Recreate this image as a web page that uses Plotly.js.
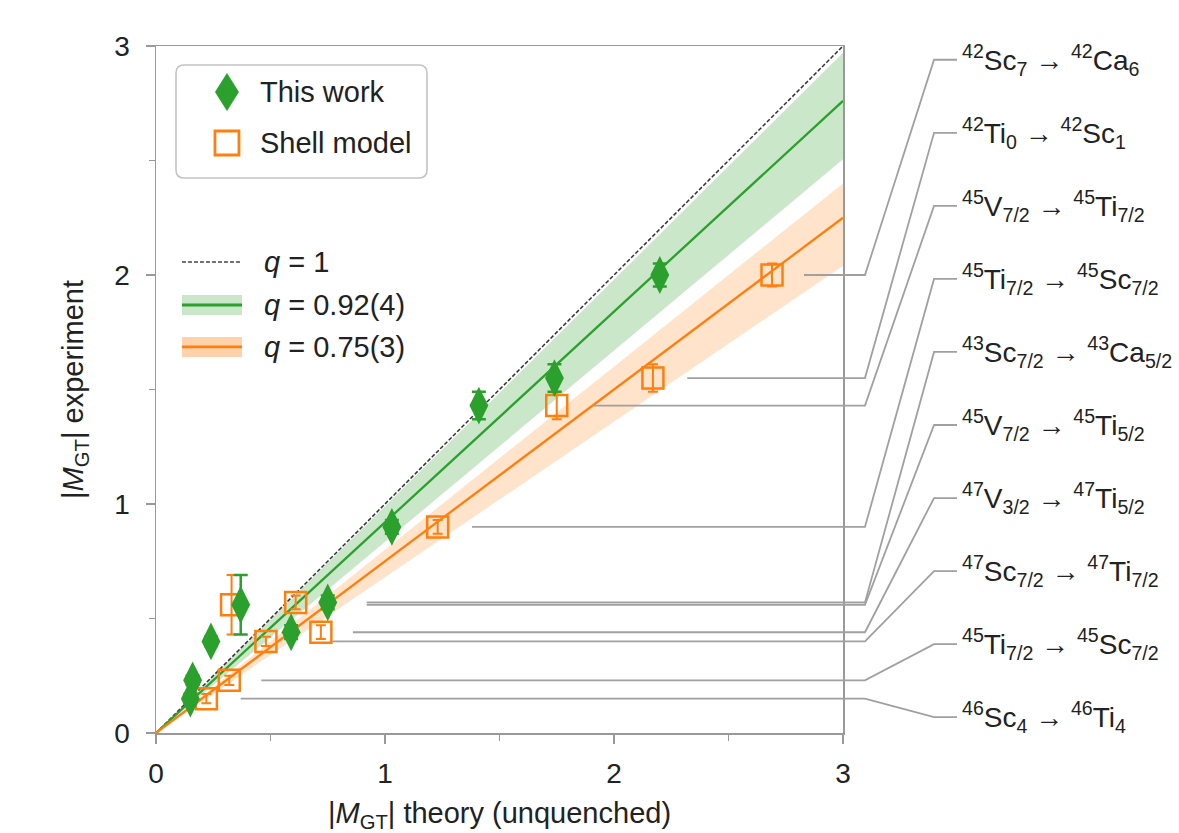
<!DOCTYPE html>
<html>
<head>
<meta charset="utf-8">
<script src="https://cdn.plot.ly/plotly-3.0.1.min.js"></script>
<style>
  html, body { margin: 0; padding: 0; background: #fff; }
  #chart { width: 1179px; height: 833px; }
</style>
</head>
<body>
<div id="chart"></div>
<script>
// ---- data (one entry per transition, top label to bottom label) ----
const transitions = [
  "<sup>42</sup>Sc<sub>7</sub> → <sup>42</sup>Ca<sub>6</sub>",
  "<sup>42</sup>Ti<sub>0</sub> → <sup>42</sup>Sc<sub>1</sub>",
  "<sup>45</sup>V<sub>7/2</sub> → <sup>45</sup>Ti<sub>7/2</sub>",
  "<sup>45</sup>Ti<sub>7/2</sub> → <sup>45</sup>Sc<sub>7/2</sub>",
  "<sup>43</sup>Sc<sub>7/2</sub> → <sup>43</sup>Ca<sub>5/2</sub>",
  "<sup>45</sup>V<sub>7/2</sub> → <sup>45</sup>Ti<sub>5/2</sub>",
  "<sup>47</sup>V<sub>3/2</sub> → <sup>47</sup>Ti<sub>5/2</sub>",
  "<sup>47</sup>Sc<sub>7/2</sub> → <sup>47</sup>Ti<sub>7/2</sub>",
  "<sup>45</sup>Ti<sub>7/2</sub> → <sup>45</sup>Sc<sub>7/2</sub>",
  "<sup>46</sup>Sc<sub>4</sub> → <sup>46</sup>Ti<sub>4</sub>"
];
const mgtExperiment   = [2.00, 1.55, 1.43, 0.90, 0.57, 0.56, 0.44, 0.40, 0.23, 0.15];
const mgtExpError     = [0.05, 0.06, 0.06, 0.03, 0.03, 0.13, 0.03, 0.02, 0.02, 0.02];
const mgtThisWork     = [2.20, 1.74, 1.41, 1.03, 0.75, 0.37, 0.59, 0.24, 0.16, 0.15];
const mgtShellModel   = [2.69, 2.17, 1.75, 1.23, 0.61, 0.33, 0.72, 0.48, 0.32, 0.22];
const leaderFrom      = [2.83, 2.32, 1.91, 1.38, 0.92, 0.92, 0.86, 0.77, 0.46, 0.37];

// quenching factors and their bands
const qNames   = ["q = 1", "q = 0.92(4)", "q = 0.75(3)"];
const qValues  = [1.0, 0.92, 0.75];
const qBandLow  = [null, 0.835, 0.68];
const qBandHigh = [null, 0.99, 0.80];
const xLine = [0, 3];

const seriesNames = ["This work", "Shell model"];
const tickVals = [0, 1, 2, 3];
const tickText = ["0", "1", "2", "3"];

// ---- styling ----
const GREEN = "#2ca02c";
const ORANGE = "#ff7f0e";
const GREEN_BAND = "rgba(44,160,44,0.25)";
const ORANGE_BAND = "rgba(255,127,14,0.22)";
const FONT = "Liberation Sans, Arial, sans-serif";
const TXT = "#222";

const traces = [];
// bands
[[1, GREEN_BAND], [2, ORANGE_BAND]].forEach(([i, fillc]) => {
  traces.push({
    x: xLine, y: xLine.map(v => v * qBandLow[i]), mode: "lines",
    line: {width: 0, color: fillc}, showlegend: false, hoverinfo: "skip"
  });
  traces.push({
    x: xLine, y: xLine.map(v => v * qBandHigh[i]), mode: "lines", fill: "tonexty",
    fillcolor: fillc, line: {width: 0, color: fillc}, showlegend: false, hoverinfo: "skip"
  });
});
// lines
traces.push({x: xLine, y: xLine.map(v => v * qValues[0]), mode: "lines", name: qNames[0],
  line: {color: "#333", width: 1.5, dash: "4px,2px"}, showlegend: false});
traces.push({x: xLine, y: xLine.map(v => v * qValues[1]), mode: "lines", name: qNames[1],
  line: {color: GREEN, width: 2.3}, showlegend: false});
traces.push({x: xLine, y: xLine.map(v => v * qValues[2]), mode: "lines", name: qNames[2],
  line: {color: ORANGE, width: 2.3}, showlegend: false});

// shell model squares
traces.push({
  x: mgtShellModel, y: mgtExperiment, mode: "markers", name: seriesNames[1], showlegend: false,
  marker: {symbol: "square-open", size: 21, color: ORANGE, line: {color: ORANGE, width: 2.5}},
  error_y: {type: "data", array: mgtExpError, visible: true, color: ORANGE, thickness: 2, width: 5}
});
// this work diamonds
traces.push({
  x: mgtThisWork, y: mgtExperiment, mode: "markers", name: seriesNames[0], showlegend: false,
  marker: {symbol: "diamond-tall", size: 27, color: GREEN},
  error_y: {type: "data", array: mgtExpError, visible: true, color: GREEN, thickness: 2.5, width: 7}
});

// ---- leader lines and labels ----
const shapes = [];
const annotations = [];
const labelTop = 2.94, labelStep = 0.319;
const xBend = 1.032, xKnee = 1.1325, xEnd = 1.166;
const LEAD = {color: "#a0a0a0", width: 1.8};
transitions.forEach((t, i) => {
  const yl = labelTop - labelStep * i;
  shapes.push({type: "line", xref: "x", yref: "y", x0: leaderFrom[i], x1: 3,
    y0: mgtExperiment[i], y1: mgtExperiment[i], line: LEAD});
  shapes.push({type: "path", xref: "paper", yref: "y",
    path: `M1,${mgtExperiment[i]} L${xBend},${mgtExperiment[i]} L${xKnee},${yl} L${xEnd},${yl}`,
    line: LEAD});
  annotations.push({xref: "paper", yref: "y", x: 1.171, y: yl, xanchor: "left", yanchor: "middle",
    text: t, showarrow: false, font: {family: FONT, size: 28, color: TXT}});
});

// ---- legend box (markers) drawn as shapes + text ----
(function () {
  const x0 = 0.0291, x1 = 0.3945, y0 = 0.8079, y1 = 0.9724, r = 0.012;
  shapes.push({type: "path", xref: "paper", yref: "paper", fillcolor: "rgba(255,255,255,0.9)",
    line: {color: "#c4c4c4", width: 1.6},
    path: `M${x0 + r},${y1} L${x1 - r},${y1} Q${x1},${y1} ${x1},${y1 - r} L${x1},${y0 + r} ` +
          `Q${x1},${y0} ${x1 - r},${y0} L${x0 + r},${y0} Q${x0},${y0} ${x0},${y0 + r} ` +
          `L${x0},${y1 - r} Q${x0},${y1} ${x0 + r},${y1} Z`});
  const mx = 0.1033, ys = [0.9330, 0.8588];
  shapes.push({type: "path", xref: "paper", yref: "paper", xsizemode: "pixel", ysizemode: "pixel",
    xanchor: mx, yanchor: ys[0], path: "M0,19 L12,0 L0,-19 L-12,0 Z",
    fillcolor: GREEN, line: {width: 0}});
  shapes.push({type: "path", xref: "paper", yref: "paper", xsizemode: "pixel", ysizemode: "pixel",
    xanchor: mx, yanchor: ys[1], path: "M-12,-12 L12,-12 L12,12 L-12,12 Z",
    fillcolor: "rgba(0,0,0,0)", line: {color: ORANGE, width: 2.8}});
  seriesNames.forEach((n, i) => {
    annotations.push({xref: "paper", yref: "paper", x: 0.1485, y: ys[i], xanchor: "left", yanchor: "middle",
      text: n, showarrow: false, font: {family: FONT, size: 29, color: TXT}});
  });
})();

// ---- legend for the q lines ----
const lx0 = 0.0378, lx1 = 0.1252, ltx = 0.1543;
const lys = [0.6856, 0.6230, 0.5619];
const bandFill = ["", GREEN_BAND, "rgba(255,127,14,0.35)"];
lys.forEach((ly, i) => {
  if (i > 0) {
    shapes.push({type: "rect", xref: "paper", yref: "paper", x0: lx0, x1: lx1,
      y0: ly - 0.0145, y1: ly + 0.0145, fillcolor: bandFill[i], line: {width: 0}});
  }
  shapes.push({type: "line", xref: "paper", yref: "paper", x0: lx0, x1: lx1, y0: ly, y1: ly,
    line: i === 0 ? {color: "#444", width: 1.5, dash: "4px,2px"} : {color: i === 1 ? GREEN : ORANGE, width: 2.8}});
  annotations.push({xref: "paper", yref: "paper", x: ltx, y: ly, xanchor: "left", yanchor: "middle",
    text: qNames[i].replace("q", "<i>q</i>"), showarrow: false, font: {family: FONT, size: 29, color: TXT}});
});

const axisCommon = {
  range: [0, 3], tickvals: tickVals, ticktext: tickText, ticks: "outside", ticklen: 9, tickwidth: 1.5,
  tickcolor: "#999", showline: true, linecolor: "#999", linewidth: 1.5, mirror: true,
  showgrid: false, zeroline: false, tickfont: {family: FONT, size: 28, color: TXT},
  minor: {dtick: 0.5, ticks: "outside", ticklen: 6, tickcolor: "#999", tickwidth: 1.5, showgrid: false}
};

const layout = {
  width: 1179, height: 833,
  margin: {l: 156, r: 336, t: 46, b: 100},
  paper_bgcolor: "#fff", plot_bgcolor: "#fff",
  font: {family: FONT, size: 28, color: TXT},
  xaxis: Object.assign({}, axisCommon, {ticklabelstandoff: 6,
    title: {text: "|<i>M</i><sub>GT</sub>| theory (unquenched)", font: {family: FONT, size: 29, color: TXT}, standoff: 14}}),
  yaxis: Object.assign({}, axisCommon, {ticklabelstandoff: 10,
    title: {text: "|<i>M</i><sub>GT</sub>| experiment", font: {family: FONT, size: 29, color: TXT}, standoff: 22}}),
  showlegend: false,
  shapes: shapes,
  annotations: annotations
};

Plotly.newPlot("chart", traces, layout, {displayModeBar: false, staticPlot: true});
</script>
</body>
</html>
